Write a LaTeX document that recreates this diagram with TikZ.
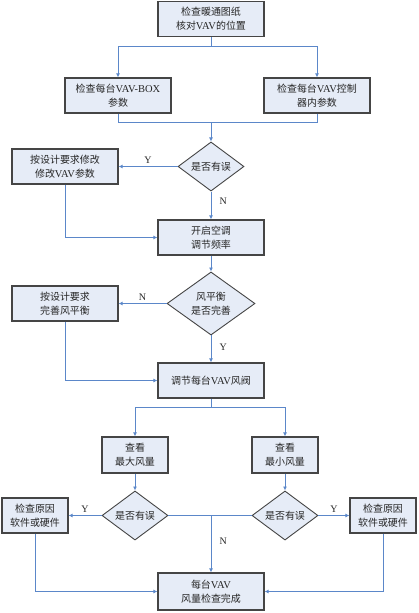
\documentclass[tikz,border=0pt]{standalone}
\usepackage{fontspec}
\setmainfont{Liberation Serif}
\newfontfamily\cjk{Noto Sans CJK SC}[Scale=0.95]
\newfontfamily\lat{Liberation Serif}
\newcommand\lt[1]{{\lat #1}}
\usetikzlibrary{shapes.geometric,arrows.meta}
\definecolor{boxfill}{HTML}{E6ECF7}
\definecolor{boxborder}{HTML}{454545}
\definecolor{linecol}{HTML}{5B87C9}
\definecolor{txt}{HTML}{262626}
\begin{document}
\begin{tikzpicture}[x=1pt,y=-1pt,
  font=\cjk\fontsize{10.5}{14}\selectfont,
  box/.style={draw=boxborder, line width=1.2pt, fill=boxfill, text=txt, minimum width=#1,
    minimum height=35pt, align=center, inner sep=1pt},
  box/.default=106pt,
  dia/.style={diamond, draw=boxborder, line width=0.9pt, fill=boxfill, text=txt,
    minimum width=#1, align=center, inner sep=0pt},
  line/.style={draw=linecol, line width=1pt},
  conn/.style={line, -{Latex[length=4pt,width=4pt]}},
  lab/.style={font=\lat\fontsize{10}{12}\selectfont, text=txt, inner sep=0pt}]
\useasboundingbox (0,0) rectangle (419,613);

\node[box] (b1) at (211,19) {检查暖通图纸\\核对\lt{VAV}的位置};
\node[box] (b2) at (118,95.5) {检查每台\lt{VAV-BOX}\\参数};
\node[box] (b3) at (317,95.5) {检查每台\lt{VAV}控制\\器内参数};
\node[dia=66pt, minimum height=35pt] (d1) at (211,166.5) {是否有误};
\node[box] (b4) at (65,166.5) {按设计要求修改\\修改\lt{VAV}参数};
\node[box] (b5) at (211,237.5) {开启空调\\调节频率};
\node[dia=88pt, minimum height=47pt] (d2) at (211,303.5) {风平衡\\是否完善};
\node[box] (b6) at (65,303.5) {按设计要求\\完善风平衡};
\node[box] (b7) at (211,380.5) {调节每台\lt{VAV}风阀};
\node[box=66pt, minimum height=36pt] (b8) at (135,455) {查看\\最大风量};
\node[box=66pt, minimum height=36pt] (b9) at (285,455) {查看\\最小风量};
\node[dia=66pt, minimum height=35pt] (d3) at (135,515.5) {是否有误};
\node[dia=66pt, minimum height=35pt] (d4) at (285,515.5) {是否有误};
\node[box=66pt] (b10) at (35,515.5) {检查原因\\软件或硬件};
\node[box=66pt] (b11) at (383,515.5) {检查原因\\软件或硬件};
\node[box, minimum height=37pt] (b12) at (211,591.5) {每台\lt{VAV}\\风量检查完成};

\coordinate (m0) at (211,46);
\coordinate (m1) at (211,122);
\coordinate (m2) at (211,407);
\coordinate (m3) at (211,515.5);

\draw[line] (b1.south) -- (m0);
\draw[conn] (m0) -| (b2.north);
\draw[conn] (m0) -| (b3.north);
\draw[line] (b2.south) |- (m1);
\draw[line] (b3.south) |- (m1);
\draw[conn] (m1) -- (d1.north);
\draw[conn] (d1.west) -- node[lab, above=3pt] {Y} (b4.east);
\draw[conn] (d1.south) -- node[lab, right=8pt, pos=0.35] {N} (b5.north);
\draw[conn] (b4.south) |- (b5.west);
\draw[conn] (b5.south) -- (d2.north);
\draw[conn] (d2.west) -- node[lab, above=3pt] {N} (b6.east);
\draw[conn] (d2.south) -- node[lab, right=8pt, pos=0.45] {Y} (b7.north);
\draw[conn] (b6.south) |- (b7.west);
\draw[line] (b7.south) -- (m2);
\draw[conn] (m2) -| (b8.north);
\draw[conn] (m2) -| (b9.north);
\draw[conn] (b8.south) -- (d3.north);
\draw[conn] (b9.south) -- (d4.north);
\draw[conn] (d3.west) -- node[lab, above=3pt] {Y} (b10.east);
\draw[conn] (d4.east) -- node[lab, above=3pt] {Y} (b11.west);
\draw[line] (d3.east) -- (d4.west);
\draw[conn] (m3) -- node[lab, right=8pt, pos=0.45] {N} (b12.north);
\draw[conn] (b10.south) |- (b12.west);
\draw[conn] (b11.south) |- (b12.east);
\end{tikzpicture}
\end{document}
